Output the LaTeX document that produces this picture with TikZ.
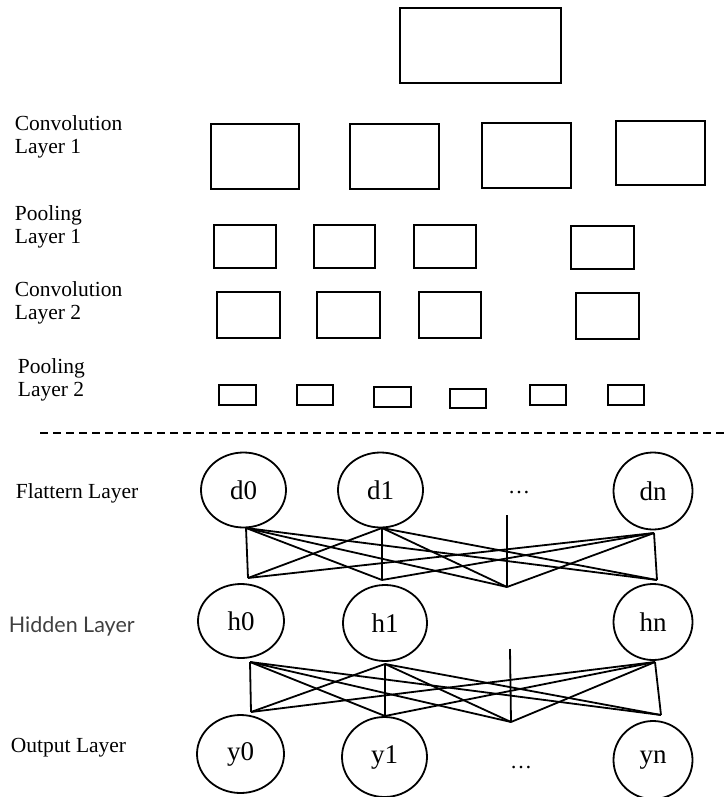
\documentclass[tikz,border=0pt]{standalone}
\usepackage{fontspec}
\setmainfont{Liberation Serif}
\newfontfamily\latofont{Lato}
\usetikzlibrary{shapes.geometric}
\definecolor{labelgray}{HTML}{404040}

\begin{document}
\begin{tikzpicture}[x=1pt, y=-1pt, line width=1.8pt,
  fmap/.style={draw, rectangle, inner sep=0pt},
  neuron/.style={draw, ellipse, inner sep=0pt, font=\fontsize{27}{30}\selectfont},
  layername/.style={anchor=west, align=left, inner sep=0pt, font=\fontsize{21.5}{23}\selectfont},
  gap/.style={inner sep=0pt, font=\fontsize{22}{24}\selectfont}]
\useasboundingbox (0,0) rectangle (726,797);

\node[fmap, minimum width=161, minimum height=75] (img) at (480.5,45.5) {};

\node[fmap, minimum width=88, minimum height=65] (c1a) at (255,156.5) {};
\node[fmap, minimum width=89, minimum height=65] (c1b) at (394.5,156.5) {};
\node[fmap, minimum width=89, minimum height=65] (c1c) at (526.5,155.5) {};
\node[fmap, minimum width=89, minimum height=64] (c1d) at (660.5,153) {};

\node[fmap, minimum width=62, minimum height=43] (p1a) at (245,246.5) {};
\node[fmap, minimum width=61, minimum height=43] (p1b) at (344.5,246.5) {};
\node[fmap, minimum width=62, minimum height=43] (p1c) at (445,246.5) {};
\node[fmap, minimum width=63, minimum height=43] (p1d) at (602.5,247.5) {};

\node[fmap, minimum width=63, minimum height=46] (c2a) at (248.5,315) {};
\node[fmap, minimum width=63, minimum height=46] (c2b) at (348.5,315) {};
\node[fmap, minimum width=62, minimum height=46] (c2c) at (450,315) {};
\node[fmap, minimum width=63, minimum height=46] (c2d) at (607.5,316) {};

\node[fmap, minimum width=37, minimum height=20] (p2a) at (237.5,395) {};
\node[fmap, minimum width=36, minimum height=20] (p2b) at (315,395) {};
\node[fmap, minimum width=37, minimum height=20] (p2c) at (392.5,397) {};
\node[fmap, minimum width=36, minimum height=19] (p2d) at (468,398.5) {};
\node[fmap, minimum width=36, minimum height=20] (p2e) at (548,395) {};
\node[fmap, minimum width=36, minimum height=20] (p2f) at (626,395) {};

\node[layername] (lc1) at (14,137) {Convolution\\Layer 1};
\node[layername] (lp1) at (14,226.5) {Pooling\\Layer 1};
\node[layername] (lc2) at (14,302.5) {Convolution\\Layer 2};
\node[layername] (lp2) at (17,380) {Pooling\\Layer 2};

\coordinate (sepl) at (40,433);
\coordinate (sepr) at (726,433);
\draw[line width=1.3pt, dash pattern=on 8pt off 5pt] (sepl) -- (sepr);

\node[layername] (lfl) at (15,493) {Flattern Layer};
\node[layername, font=\latofont\fontsize{21.5}{23}\selectfont, text=labelgray] (lhid) at (8,626) {Hidden Layer};
\node[layername] (lout) at (10,748) {Output Layer};

\node[neuron, minimum width=85, minimum height=75] (d0) at (243.5,490) {d0};
\node[neuron, minimum width=85, minimum height=75] (d1) at (380.5,490) {d1};
\node[gap] (ddots) at (519,493) {…};
\node[neuron, minimum width=79, minimum height=77] (dn) at (653,491) {dn};

\node[neuron, minimum width=86, minimum height=74] (h0) at (241,621) {h0};
\node[neuron, minimum width=84, minimum height=76] (h1) at (385,623) {h1};
\node[neuron, minimum width=79, minimum height=76] (hn) at (653,622) {hn};

\node[neuron, minimum width=87, minimum height=78] (y0) at (240.5,754) {y0};
\node[neuron, minimum width=85, minimum height=80] (y1) at (384.5,757) {y1};
\node[gap] (ydots) at (521,768) {…};
\node[neuron, minimum width=79, minimum height=78] (yn) at (653,760) {yn};

\coordinate (d0-out) at (246,528);
\coordinate (d1-out) at (382,528);
\coordinate (dn-out) at (654,533);
\coordinate (dd-out) at (507,515);
\coordinate (h0-in) at (248,578);
\coordinate (h1-in) at (382,580);
\coordinate (hd-in) at (507,587);
\coordinate (hn-in) at (657,580);

\coordinate (h0-out) at (250,662);
\coordinate (h1-out) at (385,664);
\coordinate (hn-out) at (655,662);
\coordinate (hd-out) at (510,649);
\coordinate (y0-in) at (251,712);
\coordinate (y1-in) at (385,716);
\coordinate (yd-in) at (511,722);
\coordinate (yn-in) at (661,715);

\path
(d0-out) edge (h0-in) edge (h1-in) edge (hd-in) edge (hn-in)
(d1-out) edge (h0-in) edge (h1-in) edge (hd-in) edge (hn-in)
(dn-out) edge (h0-in) edge (h1-in) edge (hd-in) edge (hn-in)
(dd-out) edge (hd-in)

(h0-out) edge (y0-in) edge (y1-in) edge (yd-in) edge (yn-in)
(h1-out) edge (y0-in) edge (y1-in) edge (yd-in) edge (yn-in)
(hn-out) edge (y0-in) edge (y1-in) edge (yd-in) edge (yn-in)
(hd-out) edge (yd-in)
;
\end{tikzpicture}
\end{document}
